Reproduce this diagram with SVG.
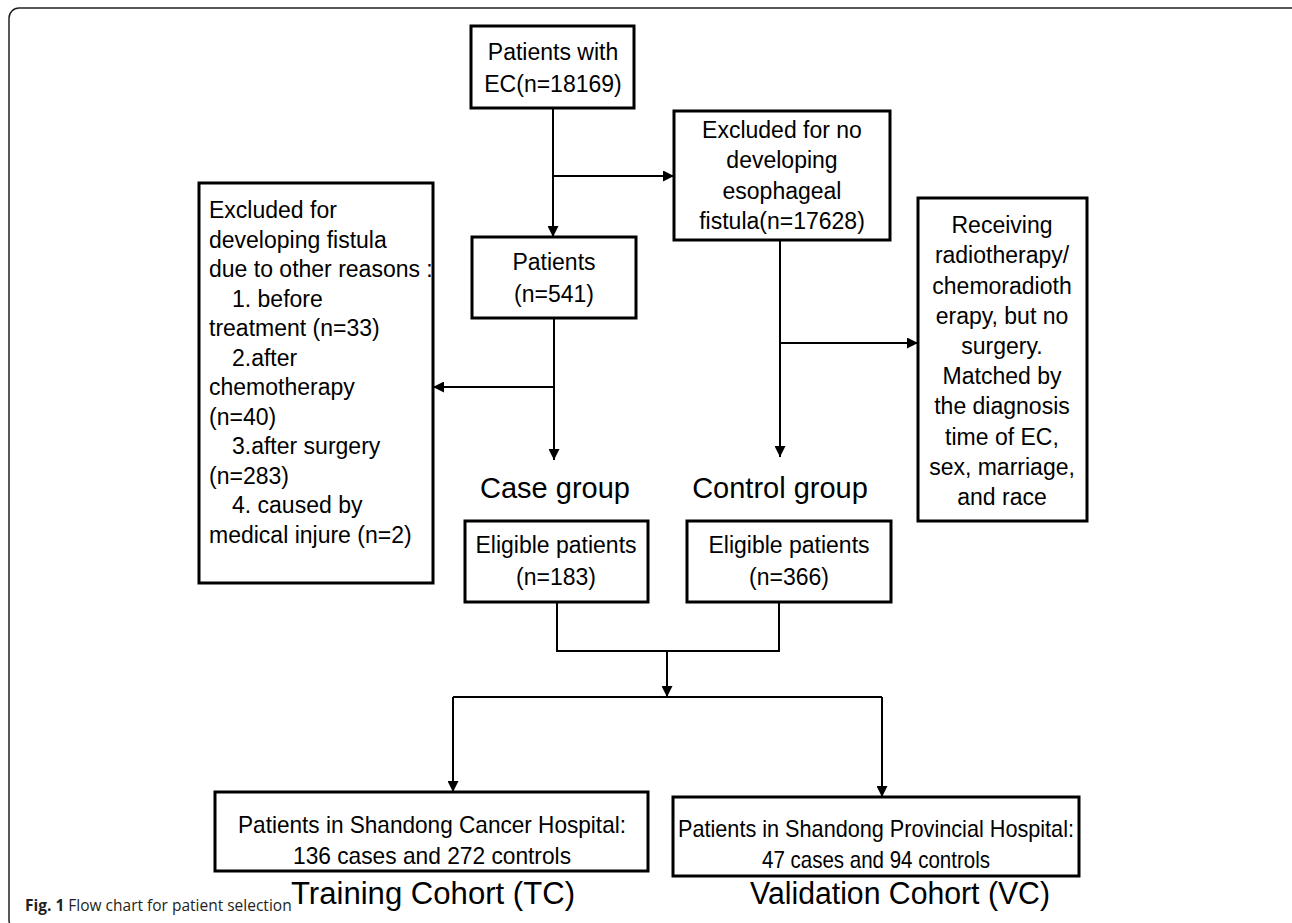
<svg xmlns="http://www.w3.org/2000/svg" width="1292" height="923" viewBox="0 0 1292 923">
<style>
.box{fill:#fff;stroke:#000;stroke-width:3}
.t{font-family:"Liberation Sans",Arial,sans-serif;font-size:23px;fill:#000}
.c{text-anchor:middle}
.lbl{font-family:"Liberation Sans",Arial,sans-serif;font-size:29px;fill:#000;text-anchor:middle}
.bt{font-family:"Liberation Sans",Arial,sans-serif;font-size:24px;fill:#000;text-anchor:middle}
.coh{font-family:"Liberation Sans",Arial,sans-serif;font-size:31px;fill:#000;text-anchor:middle}
.ln{fill:none;stroke:#000;stroke-width:2}
.cap{font-family:"Open Sans","Liberation Sans",sans-serif;font-size:15.5px;fill:#231f20}
</style>
<defs>
<marker id="ah" markerUnits="userSpaceOnUse" markerWidth="11" markerHeight="11" viewBox="0 0 10 10" refX="10" refY="5" orient="auto">
<path d="M0,0 L10,5 L0,10 z" fill="#000"/>
</marker>
</defs>
<rect x="9" y="8" width="1292" height="922" rx="10" fill="#fff" stroke="#222" stroke-width="1.5"/>

<g id="connectors">
<line class="ln" x1="553" y1="108" x2="553" y2="237" marker-end="url(#ah)"/>
<line class="ln" x1="553" y1="176" x2="674" y2="176" marker-end="url(#ah)"/>
<line class="ln" x1="554" y1="318" x2="554" y2="460" marker-end="url(#ah)"/>
<line class="ln" x1="554" y1="387" x2="433" y2="387" marker-end="url(#ah)"/>
<line class="ln" x1="780" y1="240" x2="780" y2="457" marker-end="url(#ah)"/>
<line class="ln" x1="780" y1="343" x2="918" y2="343" marker-end="url(#ah)"/>
<polyline class="ln" points="557,602 557,651 779,651 779,602"/>
<line class="ln" x1="667" y1="651" x2="667" y2="697" marker-end="url(#ah)"/>
<line class="ln" x1="453" y1="697" x2="882" y2="697"/>
<line class="ln" x1="453" y1="697" x2="453" y2="792" marker-end="url(#ah)"/>
<line class="ln" x1="882" y1="697" x2="882" y2="797" marker-end="url(#ah)"/>
</g>

<g id="n-ec">
<rect class="box" x="471" y="26" width="163" height="82"/>
<text class="t c" x="553" y="60">Patients with</text>
<text class="t c" x="553" y="92">EC(n=18169)</text>
</g>

<g id="n-excl-nofistula">
<rect class="box" x="674" y="111" width="216" height="129"/>
<text class="t c" x="782" y="138">Excluded for no</text>
<text class="t c" x="782" y="168">developing</text>
<text class="t c" x="782" y="199">esophageal</text>
<text class="t c" x="782" y="229">fistula(n=17628)</text>
</g>

<g id="n-patients">
<rect class="box" x="472" y="237" width="164" height="81"/>
<text class="t c" x="554" y="270">Patients</text>
<text class="t c" x="554" y="302">(n=541)</text>
</g>

<g id="n-excl-other">
<rect class="box" x="199" y="183" width="234" height="400"/>
<text class="t" x="209" y="218">Excluded for</text>
<text class="t" x="209" y="247.5">developing fistula</text>
<text class="t" x="209" y="277">due to other reasons :</text>
<text class="t" x="232" y="306.5">1. before</text>
<text class="t" x="209" y="336">treatment (n=33)</text>
<text class="t" x="232" y="365.5">2.after</text>
<text class="t" x="209" y="395">chemotherapy</text>
<text class="t" x="209" y="424.5">(n=40)</text>
<text class="t" x="232" y="454">3.after surgery</text>
<text class="t" x="209" y="483.5">(n=283)</text>
<text class="t" x="232" y="513">4. caused by</text>
<text class="t" x="209" y="542.5">medical injure (n=2)</text>
</g>

<g id="n-control-criteria">
<rect class="box" x="918" y="198" width="169" height="323"/>
<text class="t c" x="1002" y="233">Receiving</text>
<text class="t c" x="1002" y="263">radiotherapy/</text>
<text class="t c" x="1002" y="293.5">chemoradioth</text>
<text class="t c" x="1002" y="323.5">erapy, but no</text>
<text class="t c" x="1002" y="354">surgery.</text>
<text class="t c" x="1002" y="384">Matched by</text>
<text class="t c" x="1002" y="414">the diagnosis</text>
<text class="t c" x="1002" y="444.5">time of EC,</text>
<text class="t c" x="1002" y="474.5">sex, marriage,</text>
<text class="t c" x="1002" y="505">and race</text>
</g>

<g id="n-case-label"><text class="lbl" x="555" y="498">Case group</text></g>
<g id="n-control-label"><text class="lbl" x="780" y="498">Control group</text></g>

<g id="n-eligible-case">
<rect class="box" x="465" y="521" width="183" height="81"/>
<text class="t c" x="556" y="553">Eligible patients</text>
<text class="t c" x="556" y="585">(n=183)</text>
</g>

<g id="n-eligible-control">
<rect class="box" x="687" y="521" width="204" height="81"/>
<text class="t c" x="789" y="553">Eligible patients</text>
<text class="t c" x="789" y="585">(n=366)</text>
</g>

<g id="n-tc">
<rect class="box" x="215" y="792" width="433" height="79"/>
<text class="bt" x="432" y="833" textLength="388" lengthAdjust="spacingAndGlyphs">Patients in Shandong Cancer Hospital:</text>
<text class="bt" x="432" y="864" textLength="278" lengthAdjust="spacingAndGlyphs">136 cases and 272 controls</text>
</g>

<g id="n-vc">
<rect class="box" x="673" y="797" width="406" height="79"/>
<text class="bt" x="876" y="837" textLength="396" lengthAdjust="spacingAndGlyphs">Patients in Shandong Provincial Hospital:</text>
<text class="bt" x="876" y="868" textLength="228" lengthAdjust="spacingAndGlyphs">47 cases and 94 controls</text>
</g>

<g id="n-tc-label"><text class="coh" x="433" y="904" textLength="284" lengthAdjust="spacingAndGlyphs">Training Cohort (TC)</text></g>
<g id="n-vc-label"><text class="coh" x="900" y="904" textLength="300" lengthAdjust="spacingAndGlyphs">Validation Cohort (VC)</text></g>

<g id="caption"><text class="cap" x="25" y="911"><tspan font-weight="bold">Fig. 1</tspan> Flow chart for patient selection</text></g>
</svg>
